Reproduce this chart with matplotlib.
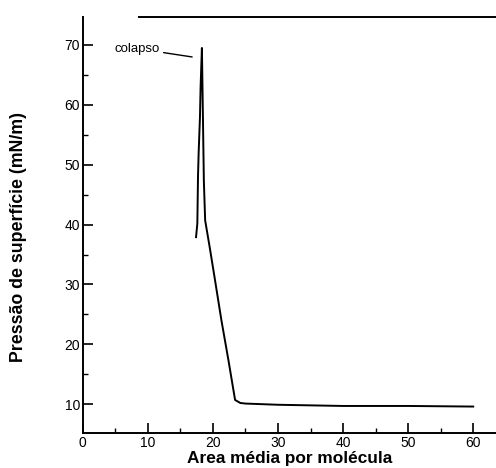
import matplotlib.pyplot as plt
from matplotlib.ticker import MultipleLocator

plt.rcParams["font.family"] = ["Liberation Sans", "DejaVu Sans"]

# isoterma pi-A: area media por molecula vs pressao de superficie
area = [60, 50, 40, 30, 25, 24.2, 23.4, 22.4, 21.3, 20.2, 19.5, 18.8,
        18.6, 18.4, 18.3, 18.1, 18.0, 17.8, 17.7, 17.6, 17.4]
pressao = [9.6, 9.7, 9.7, 9.9, 10.1, 10.2, 10.7, 17.2, 24.0, 31.5, 36.2, 40.7,
           47.3, 62.3, 69.5, 63.0, 57.9, 52.0, 48.0, 40.2, 37.9]

xticks = [0, 10, 20, 30, 40, 50, 60]
yticks = [10, 20, 30, 40, 50, 60, 70]

fig = plt.figure(figsize=(4.96, 4.68), dpi=100)
ax = fig.add_axes([0.167, 0.075, 0.833, 0.889])

ax.plot(area, pressao, color="black", lw=1.4)

ax.annotate("colapso", xy=(16.8, 68.0), xytext=(8.3, 69.4),
            ha="center", va="center", fontsize=9.5,
            arrowprops=dict(arrowstyle="-", color="black", lw=1.0,
                            shrinkA=1, shrinkB=0))

ax.set_xlim(0, 63.5)
ax.set_ylim(5.2, 74.7)
ax.set_xticks(xticks)
ax.set_yticks(yticks)
ax.xaxis.set_minor_locator(MultipleLocator(5))
ax.yaxis.set_minor_locator(MultipleLocator(5))
ax.tick_params(which="major", direction="in", length=7, width=1.2,
               labelsize=10, pad=2)
ax.tick_params(which="minor", direction="in", length=3.5, width=1.0)
ax.tick_params(top=False, right=False, which="both")

for side in ["left", "bottom", "top"]:
    ax.spines[side].set_linewidth(1.4)
ax.spines["right"].set_visible(False)
ax.spines["top"].set_bounds(8.6, 63.5)

ax.set_xlabel("Area média por molécula", fontsize=12.4, fontweight="bold",
              labelpad=1)
ax.set_ylabel("Pressão de superfície (mN/m)", fontsize=12.8,
              fontweight="bold")
ax.yaxis.set_label_coords(-0.136, 0.471)

fig.savefig("out.png", dpi=100)
